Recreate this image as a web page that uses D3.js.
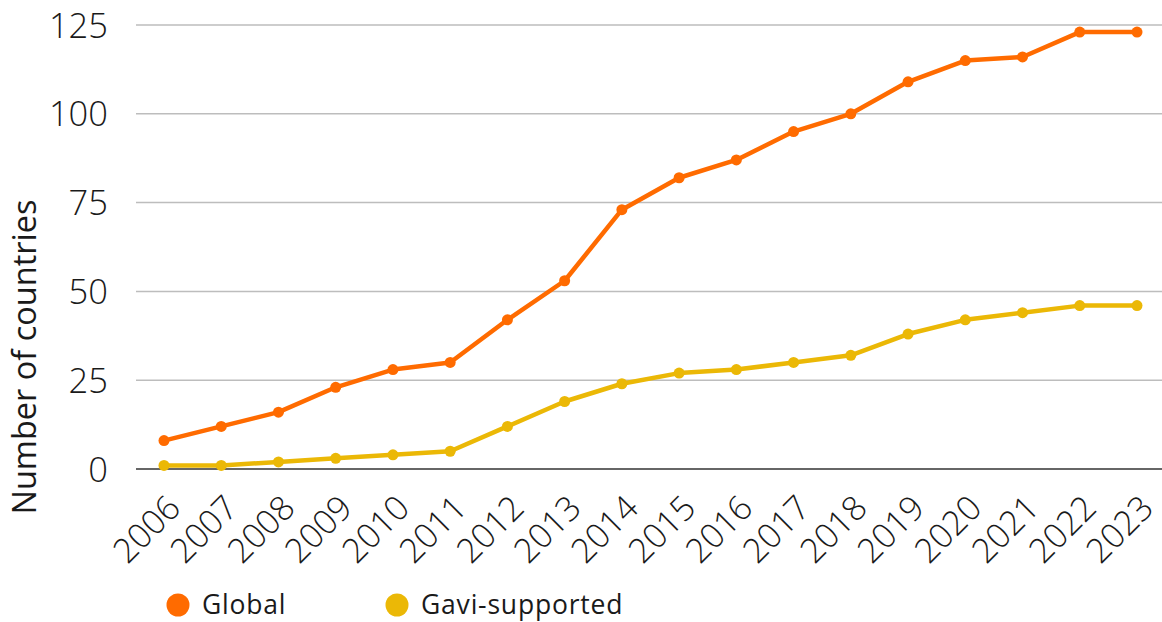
<!DOCTYPE html>
<html>
<head>
<meta charset="utf-8">
<script src="https://cdn.jsdelivr.net/npm/d3@7"></script>
<style>
  body { margin: 0; background: #fff; }
  text { font-family: "Open Sans", sans-serif; fill: #1a1a1a; }
</style>
</head>
<body>
<div id="main"></div>
<script>
// chart data
const years = ['2006', '2007', '2008', '2009', '2010', '2011', '2012', '2013', '2014',
  '2015', '2016', '2017', '2018', '2019', '2020', '2021', '2022', '2023'];
const globalValues = [8, 12, 16, 23, 28, 30, 42, 53, 73, 82, 87, 95, 100, 109, 115, 116, 123, 123];
const gaviValues = [1, 1, 2, 3, 4, 5, 12, 19, 24, 27, 28, 30, 32, 38, 42, 44, 46, 46];
const yTicks = [0, 25, 50, 75, 100, 125];
const seriesNames = ['Global', 'Gavi-supported'];
const seriesColors = ['#ff6b00', '#ebb806'];

function main() {
  const width = 1162;
  const height = 622;
  const svg = d3.select('#main').append('svg')
    .attr('width', width)
    .attr('height', height);

  const left = 136;
  const right = 1162;
  const x = d3.scalePoint()
    .domain(years)
    .range([left + 28, right - 25]);
  const y = d3.scaleLinear()
    .domain([0, 125])
    .range([469, 25]);

  // gridlines
  svg.append('g').selectAll('line')
    .data(yTicks)
    .enter()
    .append('line')
    .attr('x1', left)
    .attr('x2', right)
    .attr('y1', d => y(d))
    .attr('y2', d => y(d))
    .attr('stroke', d => (d === 0 ? '#666' : '#bdbdbd'))
    .attr('stroke-width', d => (d === 0 ? 2 : 1.5));

  // y axis labels
  const yAxis = svg.append('g')
    .attr('transform', `translate(${left - 28},0)`)
    .call(d3.axisLeft(y).tickValues(yTicks).tickSize(0).tickPadding(0));
  yAxis.select('.domain').remove();
  yAxis.selectAll('text')
    .attr('font-size', 34.5)
    .attr('font-weight', 300)
    .attr('dy', '0.35em')
    .style('font-family', '"Open Sans", sans-serif')
    .style('fill', '#1a1a1a');

  // x axis labels, rotated
  const xAxis = svg.append('g')
    .attr('transform', `translate(0,${y(0)})`)
    .call(d3.axisBottom(x).tickSize(0).tickPadding(0));
  xAxis.select('.domain').remove();
  xAxis.selectAll('text')
    .attr('font-size', 34)
    .attr('font-weight', 300)
    .attr('text-anchor', 'end')
    .attr('dy', 0)
    .attr('transform', 'translate(18,41) rotate(-45)')
    .style('font-family', '"Open Sans", sans-serif')
    .style('fill', '#1a1a1a');

  // y axis title
  svg.append('text')
    .attr('transform', `translate(36,${y(62.5) + 110}) rotate(-90)`)
    .attr('text-anchor', 'middle')
    .attr('font-size', 32.5)
    .text('Number of countries');

  // lines and points
  const line = d3.line()
    .x((d, i) => x(years[i]))
    .y(d => y(d));
  [globalValues, gaviValues].reverse().forEach((vals, k) => {
    const idx = 1 - k;
    const g = svg.append('g');
    g.append('path')
      .attr('d', line(vals))
      .attr('fill', 'none')
      .attr('stroke', seriesColors[idx])
      .attr('stroke-width', 4.5)
      .attr('stroke-linejoin', 'round');
    g.selectAll('circle')
      .data(vals)
      .enter()
      .append('circle')
      .attr('cx', (d, i) => x(years[i]))
      .attr('cy', d => y(d))
      .attr('r', 5.5)
      .attr('fill', seriesColors[idx]);
  });

  // legend
  const legendX = [178, 397];
  const legend = svg.append('g').selectAll('g')
    .data(seriesNames)
    .enter()
    .append('g')
    .attr('transform', (d, i) => `translate(${legendX[i]},605)`);
  legend.append('circle')
    .attr('r', 11.5)
    .attr('fill', (d, i) => seriesColors[i]);
  legend.append('text')
    .attr('x', 24)
    .attr('dy', '0.35em')
    .attr('font-size', 26.5)
    .attr('font-weight', 500)
    .attr('letter-spacing', 0.8)
    .text(d => d);
}
document.addEventListener('DOMContentLoaded', main);
</script>
</body>
</html>
